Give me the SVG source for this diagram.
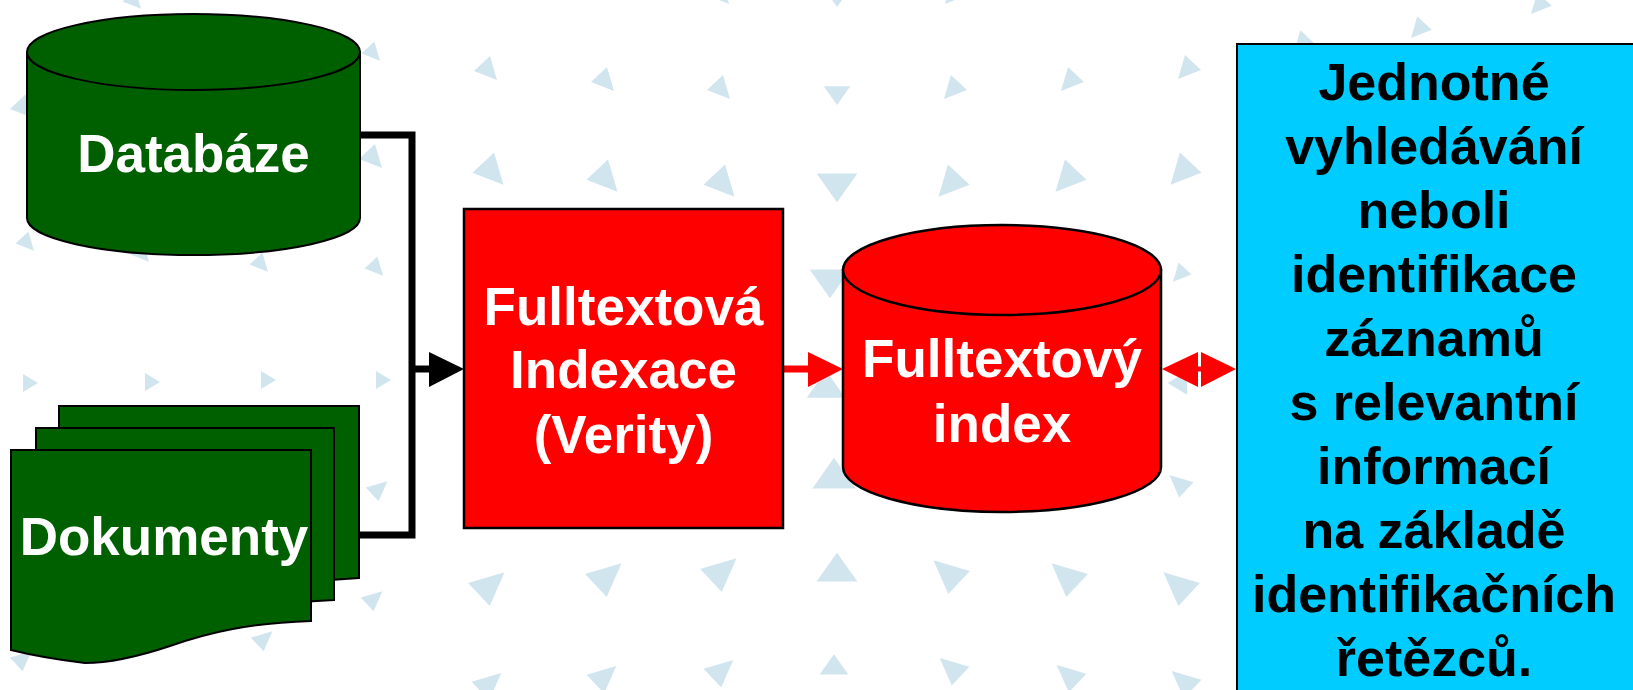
<svg xmlns="http://www.w3.org/2000/svg" xmlns:xlink="http://www.w3.org/1999/xlink" width="1633" height="690" viewBox="0 0 1633 690">
<style>
.bg{fill:#d1e5ef}
.wt{font-family:"Liberation Sans",Arial,sans-serif;font-weight:bold;font-size:53px;fill:#ffffff;text-anchor:middle}
.bt{font-family:"Liberation Sans",Arial,sans-serif;font-weight:bold;font-size:52px;fill:#000000;text-anchor:middle}
.green{fill:#006000;stroke:#000;stroke-width:2}
.red{fill:#ff0000;stroke:#000;stroke-width:2.5}
.conn{fill:none;stroke:#000;stroke-width:7}
</style>
<defs>
<polygon id="tl" points="3,-13 -13,2 10,11"/>
<polygon id="tr" points="-3,-13 13,2 -10,11"/>
<polygon id="bl" points="13,-11 -14,-3 2,14"/>
<polygon id="br" points="-13,-11 14,-3 -2,14"/>
<polygon id="cd" points="-12,-8 12,-8 0,9"/>
<polygon id="cu" points="-12,8 12,8 0,-9"/>
<polygon id="r" points="-7,-9 -7,9 8,0"/>
<polygon id="l" points="7,-9 7,9 -8,0"/>
</defs>
<rect x="0" y="0" width="1633" height="690" fill="#ffffff"/>
<g id="background" class="bg">
<use xlink:href="#tl" transform="translate(133,0) scale(0.8)"/>
<use xlink:href="#tl" transform="translate(720,-6) scale(0.9)"/>
<use xlink:href="#cd" transform="translate(837,-2) scale(1)"/>
<use xlink:href="#tr" transform="translate(954,-6) scale(0.9)"/>
<use xlink:href="#tr" transform="translate(1540,4) scale(0.9)"/>
<use xlink:href="#tl" transform="translate(372,52) scale(0.8)"/>
<use xlink:href="#tl" transform="translate(487,69) scale(1)"/>
<use xlink:href="#tl" transform="translate(604,80) scale(1)"/>
<use xlink:href="#tl" transform="translate(720,88) scale(1)"/>
<use xlink:href="#cd" transform="translate(837,95) scale(1.1)"/>
<use xlink:href="#tr" transform="translate(954,88) scale(1)"/>
<use xlink:href="#tr" transform="translate(1071,80) scale(1)"/>
<use xlink:href="#tr" transform="translate(1188,68) scale(1)"/>
<use xlink:href="#tr" transform="translate(1303,42) scale(0.9)"/>
<use xlink:href="#tr" transform="translate(1420,28) scale(0.9)"/>
<use xlink:href="#tl" transform="translate(23,107) scale(1)"/>
<use xlink:href="#tl" transform="translate(372,157) scale(1)"/>
<use xlink:href="#tl" transform="translate(490,170) scale(1.35)"/>
<use xlink:href="#tl" transform="translate(604,177) scale(1.35)"/>
<use xlink:href="#tl" transform="translate(721,182) scale(1.35)"/>
<use xlink:href="#cd" transform="translate(837,187) scale(1.7)"/>
<use xlink:href="#tr" transform="translate(952,182) scale(1.35)"/>
<use xlink:href="#tr" transform="translate(1069,177) scale(1.35)"/>
<use xlink:href="#tr" transform="translate(1184,170) scale(1.35)"/>
<use xlink:href="#tl" transform="translate(26,242) scale(0.8)"/>
<use xlink:href="#tl" transform="translate(141,253) scale(0.8)"/>
<use xlink:href="#tl" transform="translate(260,263) scale(0.8)"/>
<use xlink:href="#tl" transform="translate(375,267) scale(0.8)"/>
<use xlink:href="#cd" transform="translate(830,283) scale(1.7)"/>
<use xlink:href="#tr" transform="translate(1181,273) scale(0.8)"/>
<use xlink:href="#r" transform="translate(30,383)"/>
<use xlink:href="#r" transform="translate(152,382)"/>
<use xlink:href="#r" transform="translate(268,380)"/>
<use xlink:href="#r" transform="translate(383,380)"/>
<use xlink:href="#cu" transform="translate(826,385) scale(1.6)"/>
<use xlink:href="#l" transform="translate(1178,383) scale(1.3)"/>
<use xlink:href="#bl" transform="translate(377,490) scale(0.8)"/>
<use xlink:href="#cu" transform="translate(834,474) scale(1.8)"/>
<use xlink:href="#br" transform="translate(1181,485) scale(0.9)"/>
<use xlink:href="#bl" transform="translate(372,600) scale(0.8)"/>
<use xlink:href="#bl" transform="translate(487,587) scale(1.35)"/>
<use xlink:href="#bl" transform="translate(604,578) scale(1.35)"/>
<use xlink:href="#bl" transform="translate(719,573) scale(1.35)"/>
<use xlink:href="#cu" transform="translate(837,568) scale(1.7)"/>
<use xlink:href="#br" transform="translate(951,575) scale(1.35)"/>
<use xlink:href="#br" transform="translate(1069,578) scale(1.35)"/>
<use xlink:href="#br" transform="translate(1181,587) scale(1.35)"/>
<use xlink:href="#bl" transform="translate(21,660) scale(0.8)"/>
<use xlink:href="#bl" transform="translate(262,640) scale(0.8)"/>
<use xlink:href="#bl" transform="translate(487,685) scale(1.1)"/>
<use xlink:href="#bl" transform="translate(602,678) scale(1.1)"/>
<use xlink:href="#bl" transform="translate(719,672) scale(1.1)"/>
<use xlink:href="#cu" transform="translate(834,665) scale(1.2)"/>
<use xlink:href="#br" transform="translate(954,670) scale(1.1)"/>
<use xlink:href="#br" transform="translate(1071,677) scale(1.1)"/>
<use xlink:href="#br" transform="translate(1186,683) scale(1.1)"/>
</g>
<g id="connectors">
<path class="conn" d="M360,135 H412 V535 H359"/>
<path class="conn" d="M412,369 H432"/>
<polygon points="429,352 464,369 429,387" fill="#000"/>
<path d="M783,369 H811" fill="none" stroke="#ff0000" stroke-width="7"/>
<polygon points="808,352 843,369 808,387" fill="#ff0000"/>
<polygon points="1162,369 1198,352 1198,387" fill="#ff0000"/>
<polygon points="1236,369 1201,352 1201,387" fill="#ff0000"/>
<path d="M1196,369 H1203" fill="none" stroke="#ff0000" stroke-width="5"/>
</g>
<g id="databaze">
<path class="green" d="M27,52 V218 A166.5,37 0 0 0 360,218 V52 Z"/>
<ellipse class="green" cx="193.5" cy="52" rx="166.5" ry="38"/>
<text class="wt" x="193.5" y="172">Databáze</text>
</g>
<g id="dokumenty">
<path class="green" d="M59,406 H359 V578 C288,582 228,590 178,606 C148,616 118,621 100,619 C88,618 72,615 59,608 Z"/>
<path class="green" d="M36,428 H334 V600 C263,604 204,612 154,628 C124,638 94,642 76,641 C64,640 48,637 36,630 Z"/>
<path class="green" d="M11,450 H311 V621 C250,623 210,632 170,646 C140,656 112,663 85,663 C60,660 35,656 11,650 Z"/>
<text class="wt" x="164" y="555">Dokumenty</text>
</g>
<g id="fulltextova-indexace">
<rect class="red" x="464" y="209" width="319" height="319"/>
<text class="wt" x="623.5" y="325">Fulltextová</text>
<text class="wt" x="623.5" y="388">Indexace</text>
<text class="wt" x="623.5" y="453">(Verity)</text>
</g>
<g id="fulltextovy-index">
<path class="red" d="M843,270 V467 A159,45 0 0 0 1161,467 V270 Z"/>
<ellipse class="red" cx="1002" cy="270" rx="159" ry="45"/>
<text class="wt" x="1002" y="377">Fulltextový</text>
<text class="wt" x="1002" y="442">index</text>
</g>
<g id="vyhledavani">
<rect x="1237" y="44" width="400" height="700" fill="#00ccff" stroke="#000" stroke-width="2"/>
<text class="bt" x="1434" y="100">Jednotné</text>
<text class="bt" x="1434" y="164">vyhledávání</text>
<text class="bt" x="1434" y="228">neboli</text>
<text class="bt" x="1434" y="292">identifikace</text>
<text class="bt" x="1434" y="356">záznamů</text>
<text class="bt" x="1434" y="420">s relevantní</text>
<text class="bt" x="1434" y="484">informací</text>
<text class="bt" x="1434" y="548">na základě</text>
<text class="bt" x="1434" y="612">identifikačních</text>
<text class="bt" x="1434" y="676">řetězců.</text>
</g>
</svg>
